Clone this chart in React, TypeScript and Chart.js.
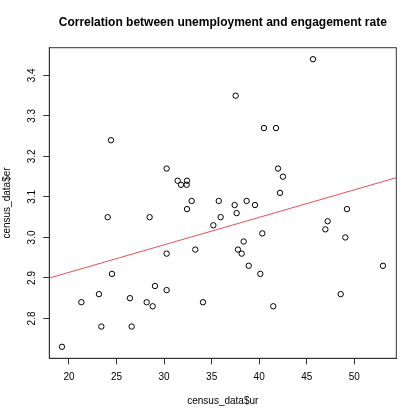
import { useEffect, useRef } from "react";
import { Chart, registerables } from "chart.js";

Chart.register(...registerables);

// census_data$ur
const unemploymentRate = [
  24.42, 30.27, 31.43, 31.78, 32.41, 32.37, 32.9, 32.41, 35.75, 24.07,
  28.48, 45.66, 37.53, 40.5, 41.77, 41.98, 42.5, 42.19, 37.42, 38.68,
  39.56, 37.63, 35.95, 49.23, 35.18, 33.28, 30.27, 24.52, 29.04, 30.27,
  23.15, 26.41, 21.3, 28.17, 28.8, 34.09, 23.4, 26.59, 19.26, 47.2,
  46.96, 40.33, 49.06, 38.37, 37.77, 38.16, 38.9, 53.02, 40.12, 48.57,
  41.48,
];
// census_data$er
const engagementRate = [
  3.24, 3.17, 3.14, 3.13, 3.14, 3.13, 3.09, 3.07, 3.09, 3.05,
  3.05, 3.44, 3.35, 3.27, 3.27, 3.17, 3.15, 3.11, 3.08, 3.09,
  3.08, 3.06, 3.05, 3.07, 3.03, 2.97, 2.96, 2.91, 2.88, 2.87,
  2.86, 2.85, 2.84, 2.84, 2.83, 2.84, 2.78, 2.78, 2.73, 3.04,
  3.02, 3.01, 3.0, 2.99, 2.97, 2.96, 2.93, 2.93, 2.91, 2.86,
  2.83,
];

const xTicks = [20, 25, 30, 35, 40, 45, 50];
const yTicks = [2.8, 2.9, 3.0, 3.1, 3.2, 3.3, 3.4];
const xRange = [17.93, 54.42];
const yRange = [2.7016, 3.4684];

// regression line
const fitIntercept = 2.778;
const fitSlope = 0.00679;

const FONT = "'Liberation Sans', Arial, Helvetica, sans-serif";

const boxPlugin = {
  id: "plotBox",
  afterDatasetsDraw(chart: any) {
    const { ctx, chartArea: a } = chart;
    ctx.save();
    ctx.strokeStyle = "#333";
    ctx.lineWidth = 1;
    ctx.strokeRect(a.left, a.top, a.right - a.left, a.bottom - a.top);
    ctx.restore();
  },
};

export default function App() {
  const ref = useRef<HTMLCanvasElement | null>(null);

  useEffect(() => {
    if (!ref.current) return;
    const points = unemploymentRate.map((x, i) => ({ x, y: engagementRate[i] }));
    const fitLine = xRange.map((x) => ({ x, y: fitIntercept + fitSlope * x }));

    const chart = new Chart(ref.current, {
      type: "scatter",
      data: {
        datasets: [
          {
            data: points,
            pointStyle: "circle",
            pointRadius: 2.7,
            pointBorderWidth: 1,
            pointBorderColor: "#000",
            pointBackgroundColor: "rgba(0,0,0,0)",
          },
          {
            type: "line",
            data: fitLine,
            borderColor: "rgb(232,80,88)",
            borderWidth: 1,
            pointRadius: 0,
            fill: false,
          } as any,
        ],
      },
      options: {
        animation: false,
        responsive: false,
        layout: { padding: { top: 0, left: 0, right: 22.7, bottom: 0 } },
        plugins: {
          legend: { display: false },
          tooltip: { enabled: false },
          title: {
            display: true,
            fullSize: false,
            text: "Correlation between unemployment and engagement rate",
            color: "#000",
            font: { family: FONT, size: 12, weight: "bold" },
            padding: { top: 15.5, bottom: 17.8 },
          },
        },
        scales: {
          x: {
            type: "linear",
            position: "bottom",
            min: xRange[0],
            max: xRange[1],
            afterBuildTicks: (s: any) => {
              s.ticks = xTicks.map((v) => ({ value: v }));
            },
            afterFit: (s: any) => {
              s.height = 61.7;
            },
            grid: {
              display: true,
              drawOnChartArea: false,
              drawTicks: true,
              tickLength: 6,
              color: "#333",
            },
            border: { display: true, color: "#333" },
            ticks: {
              color: "#000",
              padding: 7,
              font: { family: FONT, size: 10 },
              maxRotation: 0,
              autoSkip: false,
              callback: (v: any) => String(v),
            },
            title: {
              display: true,
              text: "census_data$ur",
              color: "#000",
              font: { family: FONT, size: 10 },
              padding: { top: 0, bottom: 12.3 },
            },
          },
          y: {
            type: "linear",
            position: "left",
            min: yRange[0],
            max: yRange[1],
            afterBuildTicks: (s: any) => {
              s.ticks = yTicks.map((v) => ({ value: v }));
            },
            afterFit: (s: any) => {
              s.width = 49.3;
            },
            grid: {
              display: true,
              drawOnChartArea: false,
              drawTicks: true,
              tickLength: 6,
              color: "#333",
            },
            border: { display: true, color: "#333" },
            ticks: {
              color: "#000",
              padding: 4,
              crossAlign: "center",
              minRotation: 90,
              maxRotation: 90,
              autoSkip: false,
              font: { family: FONT, size: 10 },
              callback: (v: any) => Number(v).toFixed(1),
            },
            title: {
              display: true,
              text: "census_data$er",
              color: "#000",
              font: { family: FONT, size: 10 },
              padding: { top: 1, bottom: 0 },
            },
          },
        },
      },
      plugins: [boxPlugin],
    });
    return () => chart.destroy();
  }, []);

  return (
    <div style={{ position: "fixed", left: 0, top: 0, width: 419, height: 420, background: "#fff" }}>
      <canvas ref={ref} width={419} height={420} />
    </div>
  );
}
